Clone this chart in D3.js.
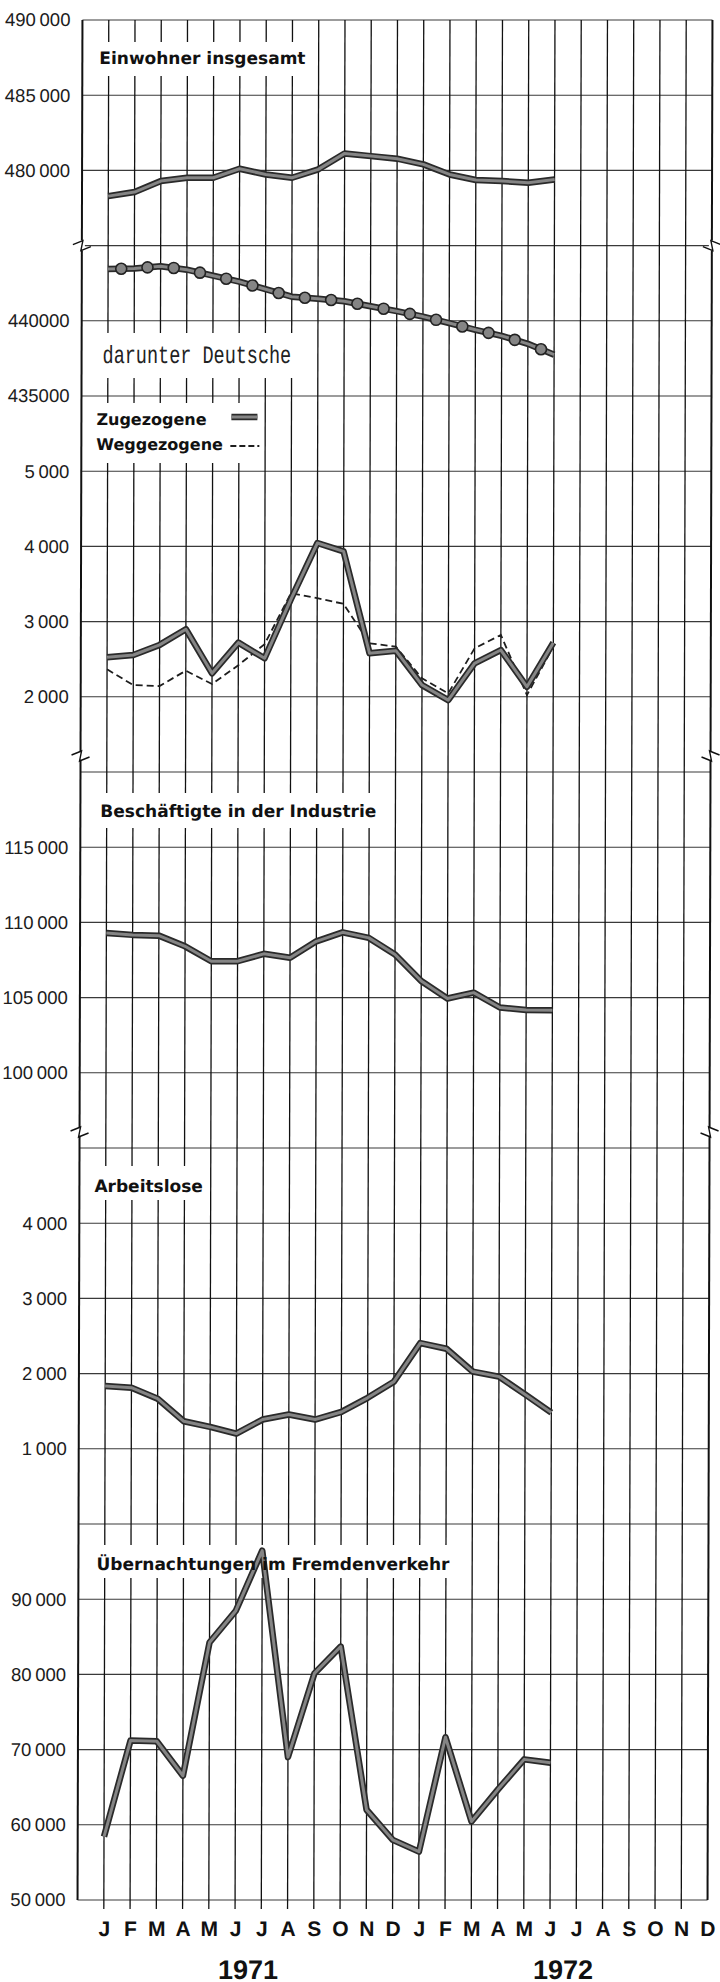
<!DOCTYPE html>
<html lang="de">
<head>
<meta charset="UTF-8" />
<title>Monatszahlen 1971/72</title>
<script src="https://d3js.org/d3.v7.min.js"></script>
<style>
  html, body { margin: 0; padding: 0; background: #fff; }
  svg { display: block; }
  .ylab text { font-family: "Liberation Sans", Arial, sans-serif; font-size: 18.5px; fill: #1c1c1c; }
  .title { font-family: "DejaVu Sans", sans-serif; font-weight: bold; font-size: 17px; fill: #111; }
  .legend { font-size: 16px; }
  .typewriter { font-family: "Liberation Mono", monospace; font-size: 18.5px; fill: #222; }
  .months text { font-family: "Liberation Sans", Arial, sans-serif; font-weight: bold; font-size: 21px; fill: #111; }
  .year { font-family: "Liberation Sans", Arial, sans-serif; font-weight: bold; font-size: 27px; fill: #111; }
</style>
</head>
<body>
<svg id="chart" width="720" height="1982"></svg>
<script>
// month axis, Jan 1971 .. Dec 1972
const monthLabels = ["J","F","M","A","M","J","J","A","S","O","N","D",
                     "J","F","M","A","M","J","J","A","S","O","N","D"];
const yearLabels = ["1971", "1972"];

// monthly values Jan 1971 .. Jun 1972
const einwohner = [478290, 478560, 479290, 479510, 479510, 480110, 479730, 479510, 480070,
                   481130, 480950, 480780, 480400, 479730, 479360, 479290, 479180, 479400];
const deutsche = [443450, 443470, 443630, 443400, 443000, 442600, 442100, 441600, 441470,
                  441300, 440970, 440640, 440280, 439850, 439400, 439000, 438470, 437750];
const zugezogene = [2525, 2556, 2690, 2898, 2312, 2720, 2512, 3300, 4045,
                    3933, 2578, 2613, 2156, 1956, 2445, 2622, 2133, 2720];
const weggezogene = [2365, 2156, 2143, 2347, 2170, 2420, 2700, 3378, 3312,
                     3236, 2711, 2667, 2245, 2045, 2645, 2822, 2023, 2667];
const beschaeftigte = [109300, 109170, 109120, 108410, 107420, 107420, 107910, 107650, 108740,
                       109340, 108970, 107870, 106100, 104940, 105330, 104340, 104180, 104160];
const arbeitslose = [1834, 1813, 1666, 1366, 1291, 1202, 1389, 1456, 1389,
                     1490, 1678, 1893, 2406, 2330, 2027, 1960, 1723, 1481];
const uebernachtungen = [58440, 71200, 71110, 66520, 84240, 88470, 96460, 69000, 80130,
                         83700, 62000, 58000, 56430, 71650, 60440, 64680, 68700, 68250];

// tick values and their printed labels
const ticksEinwohner = [490000, 485000, 480000];
const tickTextEinwohner = ["490\u2009000", "485\u2009000", "480\u2009000"];
const ticksDeutsche = [440000, 435000];
const tickTextDeutsche = ["440000", "435000"];
const ticksWanderung = [5000, 4000, 3000, 2000];
const tickTextWanderung = ["5\u2009000", "4\u2009000", "3\u2009000", "2\u2009000"];
const ticksIndustrie = [115000, 110000, 105000, 100000];
const tickTextIndustrie = ["115\u2009000", "110\u2009000", "105\u2009000", "100\u2009000"];
const ticksArbeitslose = [4000, 3000, 2000, 1000];
const tickTextArbeitslose = ["4\u2009000", "3\u2009000", "2\u2009000", "1\u2009000"];
const ticksFremden = [90000, 80000, 70000, 60000, 50000];
const tickTextFremden = ["90\u2009000", "80\u2009000", "70\u2009000", "60\u2009000", "50\u2009000"];

// layout
const frameLeft = 80;
const x = d3.scaleLinear().domain([0, 23]).range([106.3, 710]);
const row = d3.scaleLinear().domain([0, 25]).range([20, 1900]); // 26 grid rows

// each panel occupies some grid rows and has its own value scale
const panels = [
  { rows: [0, 3],   domain: [490000, 475000], ticks: ticksEinwohner,   text: tickTextEinwohner },
  { rows: [3, 5],   domain: [445000, 435000], ticks: ticksDeutsche,    text: tickTextDeutsche },
  { rows: [5, 10],  domain: [6000, 1000],     ticks: ticksWanderung,   text: tickTextWanderung },
  { rows: [10, 15], domain: [120000, 95000],  ticks: ticksIndustrie,   text: tickTextIndustrie },
  { rows: [15, 20], domain: [5000, 0],        ticks: ticksArbeitslose, text: tickTextArbeitslose },
  { rows: [20, 25], domain: [100000, 50000],  ticks: ticksFremden,     text: tickTextFremden }
];
panels.forEach(p => {
  p.y = d3.scaleLinear().domain(p.domain).range([row(p.rows[0]), row(p.rows[1])]);
});

const svg = d3.select("#chart");
svg.append("rect").attr("width", 720).attr("height", 1982).attr("fill", "#fff");

// the scanned sheet leans slightly: shear around the vertical middle
const skewDeg = 0.15;
const k = Math.tan(skewDeg * Math.PI / 180);
const root = svg.append("g").attr("transform", `translate(${k * 960},0) skewX(${-skewDeg})`);

// grid
const grid = root.append("g");
grid.selectAll("line.h").data(d3.range(26)).join("line").attr("class", "h")
  .attr("x1", frameLeft).attr("x2", x(23))
  .attr("y1", d => row(d)).attr("y2", d => row(d))
  .attr("stroke", "#3a3a3a").attr("stroke-width", 1.1);
grid.selectAll("line.v").data(d3.range(23)).join("line").attr("class", "v")
  .attr("x1", d => x(d)).attr("x2", d => x(d))
  .attr("y1", row(0)).attr("y2", row(25) + 9)
  .attr("stroke", "#111").attr("stroke-width", 1.3);
// frame
[frameLeft, x(23)].forEach(fx => {
  grid.append("line").attr("x1", fx).attr("x2", fx).attr("y1", row(0)).attr("y2", row(25))
    .attr("stroke", "#111").attr("stroke-width", 2);
});

// scale-break zigzags on both frame sides
const breaks = [row(3), row(10) - 16, row(15) - 16];
breaks.forEach(by => {
  [[frameLeft, 1], [x(23), -1]].forEach(([fx, s]) => {
    grid.append("rect").attr("x", fx - 3).attr("y", by - 5).attr("width", 6).attr("height", 10)
      .attr("fill", "#fff");
    grid.append("path")
      .attr("d", `M${fx - 9 * s},${by - 1} L${fx + 1 * s},${by - 5} L${fx - 1 * s},${by + 5} L${fx + 9 * s},${by + 1}`)
      .attr("fill", "none").attr("stroke", "#111").attr("stroke-width", 1.4);
  });
});

// y tick labels
panels.forEach(p => {
  root.append("g").attr("class", "ylab")
    .attr("transform", `translate(${frameLeft},0)`)
    .call(d3.axisLeft(p.y).tickValues(p.ticks).tickFormat((d, i) => p.text[i])
      .tickSize(0).tickPadding(12))
    .call(g => g.select(".domain").remove());
});

// white label boxes that interrupt the grid
const boxes = [
  [90, 42, 312, 76],
  [95, 333, 300, 378],
  [88, 403, 262, 463],
  [92, 793, 385, 828],
  [90, 1166, 205, 1200],
  [92, 1545, 462, 1578]
];
root.append("g").selectAll("rect").data(boxes).join("rect")
  .attr("x", d => d[0]).attr("y", d => d[1])
  .attr("width", d => d[2] - d[0]).attr("height", d => d[3] - d[1])
  .attr("fill", "#fff");

// line drawing helpers
const lines = root.append("g");
function thick(d) {
  lines.append("path").attr("d", d).attr("fill", "none")
    .attr("stroke", "#2a2a2a").attr("stroke-width", 6.5)
    .attr("stroke-linejoin", "round").attr("stroke-linecap", "butt");
  lines.append("path").attr("d", d).attr("fill", "none")
    .attr("stroke", "#858585").attr("stroke-width", 3)
    .attr("stroke-linejoin", "round").attr("stroke-linecap", "butt");
}
function lineFor(p) {
  return d3.line().x((d, i) => x(i)).y(d => p.y(d));
}

thick(lineFor(panels[0])(einwohner));

thick(lineFor(panels[1])(deutsche));
// bead markers sit half-way between the month gridlines, on the drawn line
const beads = d3.range(deutsche.length - 1).map(i => ({
  cx: x(i + 0.5),
  cy: (panels[1].y(deutsche[i]) + panels[1].y(deutsche[i + 1])) / 2
}));
lines.selectAll("circle.bead").data(beads).join("circle").attr("class", "bead")
  .attr("cx", d => d.cx).attr("cy", d => d.cy).attr("r", 5.5)
  .attr("fill", "#858585").attr("stroke", "#222").attr("stroke-width", 1.6);

lines.append("path").attr("d", lineFor(panels[2])(weggezogene)).attr("fill", "none")
  .attr("stroke", "#1e1e1e").attr("stroke-width", 1.8).attr("stroke-dasharray", "7 4");
thick(lineFor(panels[2])(zugezogene));

thick(lineFor(panels[3])(beschaeftigte));
thick(lineFor(panels[4])(arbeitslose));
thick(lineFor(panels[5])(uebernachtungen));

// legend samples
thick(`M230,417 L256,417`);
lines.append("path").attr("d", "M229,446 L258,446").attr("fill", "none")
  .attr("stroke", "#1e1e1e").attr("stroke-width", 1.8).attr("stroke-dasharray", "6 3");

// titles (on top of the lines)
const titles = root.append("g");
titles.append("text").attr("class", "title").attr("x", 97).attr("y", 64).text("Einwohner insgesamt");
titles.append("text").attr("class", "typewriter")
  .attr("transform", "translate(101,363) scale(1,1.35)").text("darunter Deutsche");
titles.append("text").attr("class", "title legend").attr("x", 95).attr("y", 425).text("Zugezogene");
titles.append("text").attr("class", "title legend").attr("x", 95).attr("y", 450).text("Weggezogene");
titles.append("text").attr("class", "title").attr("x", 100).attr("y", 817).text("Beschäftigte in der Industrie");
titles.append("text").attr("class", "title").attr("x", 95).attr("y", 1192).text("Arbeitslose");
titles.append("text").attr("class", "title").attr("x", 98).attr("y", 1570).text("Übernachtungen im Fremdenverkehr");

// month axis
root.append("g").attr("class", "months")
  .attr("transform", `translate(0,${row(25)})`)
  .call(d3.axisBottom(x).tickValues(d3.range(24)).tickFormat(i => monthLabels[i])
    .tickSize(0).tickPadding(21))
  .call(g => g.select(".domain").remove());

root.append("g").selectAll("text").data(yearLabels).join("text")
  .attr("class", "year")
  .attr("x", (d, i) => x(5.5 + 12 * i))
  .attr("y", 1979)
  .attr("text-anchor", "middle")
  .text(d => d);
</script>
</body>
</html>
